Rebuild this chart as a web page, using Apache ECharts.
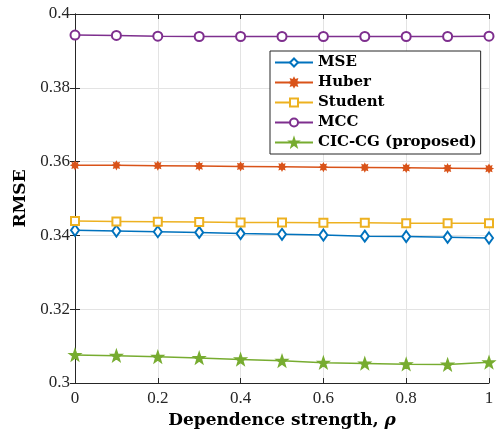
<!DOCTYPE html>
<html>
<head>
<meta charset="utf-8">
<script src="https://cdn.jsdelivr.net/npm/echarts@6/dist/echarts.min.js"></script>
<style>
  html, body { margin: 0; padding: 0; background: #fff; }
  #main { width: 497px; height: 432px; }
</style>
</head>
<body>
<div id="main"></div>
<script>
// dependence strength rho
var rho = [0, 0.1, 0.2, 0.3, 0.4, 0.5, 0.6, 0.7, 0.8, 0.9, 1];
var xTicks = ['0', '0.2', '0.4', '0.6', '0.8', '1'];
var yTicks = ['0.3', '0.32', '0.34', '0.36', '0.38', '0.4'];

// RMSE per method
var mse = [0.3414, 0.3412, 0.3410, 0.3408, 0.3405, 0.3403, 0.3401, 0.3398, 0.3397, 0.3395, 0.3393];
var huber = [0.3590, 0.3590, 0.3589, 0.3588, 0.3587, 0.3586, 0.3585, 0.3584, 0.3583, 0.3582, 0.3581];
var student = [0.3439, 0.3438, 0.3437, 0.3436, 0.3435, 0.3435, 0.3434, 0.3434, 0.3433, 0.3433, 0.3433];
var mcc = [0.3943, 0.3942, 0.3940, 0.3939, 0.3939, 0.3939, 0.3939, 0.3939, 0.3939, 0.3939, 0.3940];
var ciccg = [0.3076, 0.3074, 0.3071, 0.3068, 0.3064, 0.3060, 0.3055, 0.3053, 0.3051, 0.3050, 0.3056];

var names = ['MSE', 'Huber', 'Student', 'MCC', 'CIC-CG (proposed)'];
var colors = ['#0072BD', '#D95319', '#EDB120', '#7E2F8E', '#77AC30'];

// star shaped symbol path (n points)
function starPath(n, rOut, rIn) {
  var pts = [];
  for (var i = 0; i < n * 2; i++) {
    var r = i % 2 ? rIn : rOut;
    var a = Math.PI * i / n - Math.PI / 2;
    pts.push((50 + r * Math.cos(a)).toFixed(1) + ',' + (50 + r * Math.sin(a)).toFixed(1));
  }
  return 'path://M' + pts.join(' L') + ' Z';
}

var symbols = [
  { s: 'emptyDiamond', size: [8, 11] },
  { s: starPath(8, 50, 30), size: 7 },
  { s: 'emptyRect', size: 8 },
  { s: 'emptyCircle', size: 9 },
  { s: starPath(5, 50, 20), size: 11 }
];

var values = [mse, huber, student, mcc, ciccg];

var chart = echarts.init(document.getElementById('main'));

var axisCol = '#262626';
var serif = 'Liberation Serif';
var boldFont = 'DejaVu Serif';

var series = values.map(function (vals, i) {
  return {
    name: names[i],
    type: 'line',
    data: rho.map(function (r, j) { return [r, vals[j]]; }),
    symbol: symbols[i].s,
    symbolSize: symbols[i].size,
    showAllSymbol: true,
    color: colors[i],
    lineStyle: { color: colors[i], width: 1.5 },
    itemStyle: { color: colors[i], borderColor: colors[i], borderWidth: 1.5 },
    emphasis: { disabled: true },
    z: 3
  };
});

var option = {
  backgroundColor: '#fff',
  animation: false,
  grid: { left: 75, right: 8, top: 14, bottom: 49, outerBoundsMode: 'none', containLabel: false },
  legend: {
    data: names,
    left: 270,
    top: 51,
    orient: 'vertical',
    itemWidth: 38,
    itemHeight: 10,
    itemGap: 5,
    padding: [4, 4, 4, 4],
    backgroundColor: '#fff',
    borderColor: axisCol,
    borderWidth: 1,
    borderRadius: 0,
    textStyle: { fontFamily: boldFont, fontWeight: 'bold', fontSize: 15, color: '#000' }
  },
  xAxis: [{
    type: 'value',
    min: 0, max: 1, interval: 0.2,
    name: '{t|Dependence strength, }{r|ρ}',
    nameLocation: 'middle',
    nameGap: 28,
    nameTextStyle: {
      rich: {
        t: { fontFamily: boldFont, fontWeight: 'bold', fontSize: 17, color: '#000' },
        r: { fontFamily: boldFont, fontWeight: 'bold', fontStyle: 'italic', fontSize: 17, color: '#000' }
      }
    },
    axisLine: { lineStyle: { color: axisCol, width: 1 } },
    axisTick: { inside: true, length: 5, lineStyle: { color: axisCol } },
    axisLabel: {
      fontFamily: serif, fontSize: 17, color: '#262626', margin: 7,
      formatter: function (v) { return xTicks[Math.round(v / 0.2)]; }
    },
    splitLine: { show: true, lineStyle: { color: '#e3e3e3', width: 1 } }
  }, {
    type: 'value', position: 'top',
    min: 0, max: 1, interval: 0.2,
    axisLine: { show: true, lineStyle: { color: axisCol, width: 1 } },
    axisTick: { inside: true, length: 5, lineStyle: { color: axisCol } },
    axisLabel: { show: false },
    splitLine: { show: false }
  }],
  yAxis: [{
    type: 'value',
    min: 0.3, max: 0.4, interval: 0.02,
    name: 'RMSE',
    nameLocation: 'middle',
    nameGap: 46,
    nameTextStyle: { fontFamily: boldFont, fontWeight: 'bold', fontSize: 17, color: '#000' },
    axisLine: { show: true, lineStyle: { color: axisCol, width: 1 } },
    axisTick: { inside: true, length: 5, lineStyle: { color: axisCol } },
    axisLabel: {
      fontFamily: serif, fontSize: 17, color: '#262626', margin: 5,
      formatter: function (v) { return yTicks[Math.round((v - 0.3) / 0.02)]; }
    },
    splitLine: { show: true, lineStyle: { color: '#e3e3e3', width: 1 } }
  }, {
    type: 'value', position: 'right',
    min: 0.3, max: 0.4, interval: 0.02,
    axisLine: { show: true, lineStyle: { color: axisCol, width: 1 } },
    axisTick: { inside: true, length: 5, lineStyle: { color: axisCol } },
    axisLabel: { show: false },
    splitLine: { show: false }
  }],
  series: series
};

chart.setOption(option);
</script>
</body>
</html>
